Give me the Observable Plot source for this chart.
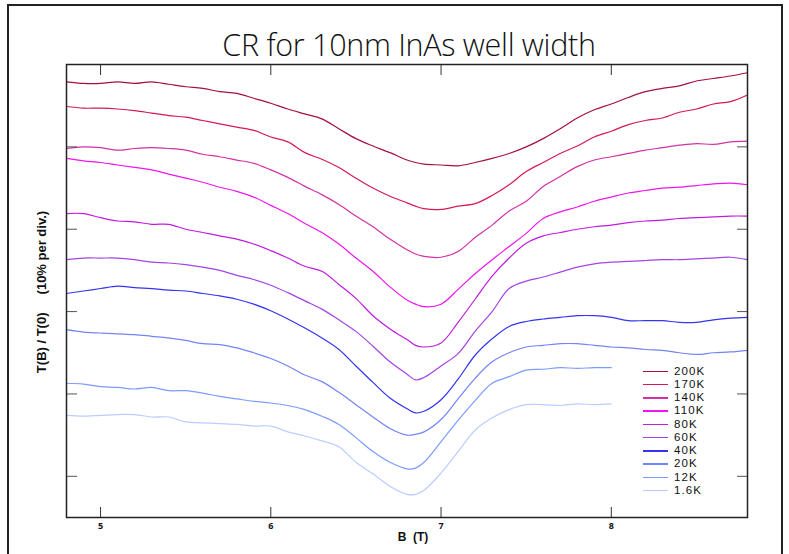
<!DOCTYPE html>
<html><head><meta charset="utf-8">
<script src="https://cdn.jsdelivr.net/npm/d3@7"></script>
<script src="https://cdn.jsdelivr.net/npm/@observablehq/plot@0.6"></script>
<style>
body{margin:0;background:#fff;}
#wrap{position:relative;width:789px;height:554px;overflow:hidden;font-family:"Liberation Sans",Arial,sans-serif;}
#border{position:absolute;left:7px;top:4px;width:772px;height:640px;border:2px solid #222;}
#chart{position:absolute;left:0;top:0;}
#title{position:absolute;left:0;width:818px;top:23px;text-align:center;font-family:"Open Sans",sans-serif;font-weight:300;font-size:30.5px;color:#111;letter-spacing:-0.3px;}
#ylab{position:absolute;left:-78px;top:284px;width:240px;text-align:center;font-size:13px;font-weight:bold;white-space:pre;transform:rotate(-90deg);color:#111;line-height:16px;}
#xlab{position:absolute;left:363px;width:100px;top:530px;text-align:center;font-size:12px;font-weight:bold;white-space:pre;color:#111;}
.lg{position:absolute;height:12px;font-size:11.5px;letter-spacing:1.1px;color:#111;}
.lg span.ln{position:absolute;left:0;top:6px;width:25px;height:1.6px;}
.lg span.tx{position:absolute;left:31px;top:0px;line-height:13px;}
</style>
</head><body>
<div id="wrap">
<div id="border"></div>
<div id="chart"></div>
<div id="title">CR for 10nm InAs well width</div>
<div id="ylab">T(B) / T(0)     (10% per div.)</div>
<div id="xlab">B  (T)</div>
</div>
<script>
// Magnetic field (T)
const B = [4.8,4.9,5.0,5.1,5.2,5.3,5.4,5.5,5.6,5.7,5.8,5.9,6.0,6.1,6.2,6.3,6.4,6.5,6.6,6.7,6.8,6.85,6.9,7.0,7.1,7.2,7.3,7.4,7.5,7.6,7.7,7.8,7.9,8.0,8.1,8.2,8.3,8.4,8.5,8.6,8.7,8.8];
// Transmission (offset curves, % units; 10% per division)
const t200 = [52.9,52.7,52.7,52.9,52.7,52.9,52.6,52.3,52.1,51.7,51.5,50.9,50.3,49.6,49.0,48.4,47.2,46.0,45.1,44.3,43.4,43.1,42.9,42.8,42.7,43.1,43.6,44.2,45.0,46.0,47.2,48.5,49.5,50.2,51.0,51.7,52.1,52.4,53.0,53.3,53.6,54.0];
const t170 = [49.9,49.7,49.7,49.6,49.4,49.1,48.8,48.6,48.2,47.8,47.4,47.0,46.2,45.6,44.3,43.5,42.5,41.2,40.0,39.0,38.2,37.8,37.5,37.4,37.8,38.1,39.1,40.4,42.0,43.1,44.2,45.1,46.2,46.9,47.7,48.2,48.5,49.2,49.6,50.2,50.5,51.3];
const t140 = [44.8,45.0,44.9,44.6,44.8,44.9,44.8,44.6,44.1,43.8,43.4,43.0,42.2,41.3,40.2,39.2,38.0,36.6,35.3,33.8,32.5,32.0,31.7,31.6,32.3,34.0,35.5,37.2,38.4,40.2,41.4,42.6,43.4,43.8,44.2,44.6,44.9,45.2,45.4,45.3,45.6,45.7];
const t110 = [43.6,43.3,43.1,42.8,42.5,42.2,41.7,41.2,40.7,40.1,39.6,38.9,37.9,36.9,35.7,34.6,33.2,31.5,29.9,28.0,26.4,25.9,25.6,25.9,27.7,29.6,31.3,32.9,34.5,36.3,37.1,37.7,38.4,38.9,39.4,39.7,40.0,40.1,40.3,40.5,40.6,40.4];
const t80  = [36.9,36.9,36.4,36.0,35.9,35.6,35.6,35.0,34.6,34.2,33.8,33.2,32.4,31.5,30.5,29.9,28.3,26.6,24.5,22.9,21.6,20.9,20.7,21.2,23.7,26.5,29.3,31.5,33.3,34.2,34.6,35.0,35.3,35.5,35.8,36.0,36.1,36.3,36.4,36.5,36.6,36.6];
const t60  = [31.3,31.5,31.5,31.5,31.3,31.0,30.9,30.7,30.4,30.0,29.4,28.9,28.2,27.3,26.3,25.3,24.0,22.6,20.8,18.9,17.4,16.7,17.0,18.4,19.9,22.6,25.0,27.8,28.7,29.2,29.8,30.4,30.8,31.0,31.1,31.2,31.3,31.3,31.4,31.5,31.6,31.3];
const t40  = [27.2,27.5,27.8,28.1,27.9,27.8,27.6,27.5,27.2,26.9,26.5,25.9,25.1,24.1,23.0,21.8,20.4,18.4,16.4,14.5,13.2,12.7,12.9,14.3,16.8,19.7,21.7,23.2,23.8,24.1,24.3,24.5,24.5,24.3,23.9,23.9,23.9,23.7,23.7,24.0,24.2,24.3];
const t20  = [22.8,22.5,22.4,22.3,22.2,22.0,21.8,21.5,21.1,21.0,20.6,20.0,19.3,18.4,17.3,16.5,15.2,13.7,12.2,10.8,10.0,10.1,10.4,11.9,14.4,16.9,18.9,20.0,20.7,20.9,21.1,21.1,20.9,20.7,20.6,20.4,20.3,20.0,19.8,20.0,20.1,20.3];
const t12  = [16.3,16.2,15.9,15.8,15.6,15.8,15.4,15.4,15.1,14.7,14.4,14.1,13.9,13.6,13.1,12.3,11.3,9.7,8.0,6.7,5.9,6.0,6.7,9.2,11.8,14.2,16.3,17.1,17.9,18.0,18.2,18.1,18.2,18.2,null,null,null,null,null,null,null,null];
const t1_6 = [12.4,12.3,12.4,12.5,12.5,12.2,12.2,11.6,11.5,11.4,11.3,11.1,11.1,10.4,9.9,9.3,8.6,6.7,5.3,3.8,2.8,2.8,3.3,5.4,8.0,10.6,12.1,13.1,13.7,13.7,13.6,13.8,13.7,13.8,null,null,null,null,null,null,null,null];

const seriesNames = ["200K","170K","140K","110K","80K","60K","40K","20K","12K","1.6K"];
const seriesValues = [t200,t170,t140,t110,t80,t60,t40,t20,t12,t1_6];
const seriesColors = ["#a3123f","#d41a55","#d232a6","#f014ee","#c01ce0","#a444e6","#3434f2","#7484f6","#7c9cff","#bccdff"];
const xTicks = [5,6,7,8];
const yTicks = [5,15,25,35,45];

const rows = [];
seriesNames.forEach((s,i)=>{
  B.forEach((b,j)=>{ rows.push({B:b, v: seriesValues[i][j], s}); });
});

const chart = Plot.plot({
  width:789, height:554,
  marginLeft:66, marginRight:42, marginTop:64, marginBottom:37,
  style:{background:"transparent", overflow:"visible"},
  x:{domain:[4.8,8.8]},
  y:{domain:[0,55]},
  color:{domain:seriesNames, range:seriesColors},
  marks:[
    Plot.line(rows,{x:"B", y:"v", z:"s", stroke:"s", strokeWidth:1.2, curve:"catmull-rom"}),
    Plot.axisX({anchor:"bottom", ticks:xTicks, tickSize:-10, tickFormat:()=>"", label:null, stroke:"#333"}),
    Plot.axisX({anchor:"top", ticks:xTicks, tickSize:-10, tickFormat:()=>"", label:null, stroke:"#333"}),
    Plot.axisX({anchor:"bottom", ticks:xTicks, tickSize:0, tickPadding:5, tickFormat:d=>String(d), label:null, fontSize:9, fontWeight:"bold", fill:"#111"}),
    Plot.axisY({anchor:"left", ticks:yTicks, tickSize:-11, tickFormat:()=>"", label:null, stroke:"#555"}),
    Plot.axisY({anchor:"right", ticks:yTicks, tickSize:-11, tickFormat:()=>"", label:null, stroke:"#555"}),
    Plot.frame({stroke:"#222", strokeWidth:1.5})
  ]
});
document.getElementById("chart").appendChild(chart);

// legend
const wrap = document.getElementById("wrap");
seriesNames.forEach((s,i)=>{
  const d = document.createElement("div");
  d.className = "lg";
  d.style.left = "643px";
  d.style.top = (364.5 + i*13.26) + "px";
  d.innerHTML = `<span class="ln" style="background:${seriesColors[i]}"></span><span class="tx">${s}</span>`;
  wrap.appendChild(d);
});
</script>
</body></html>
